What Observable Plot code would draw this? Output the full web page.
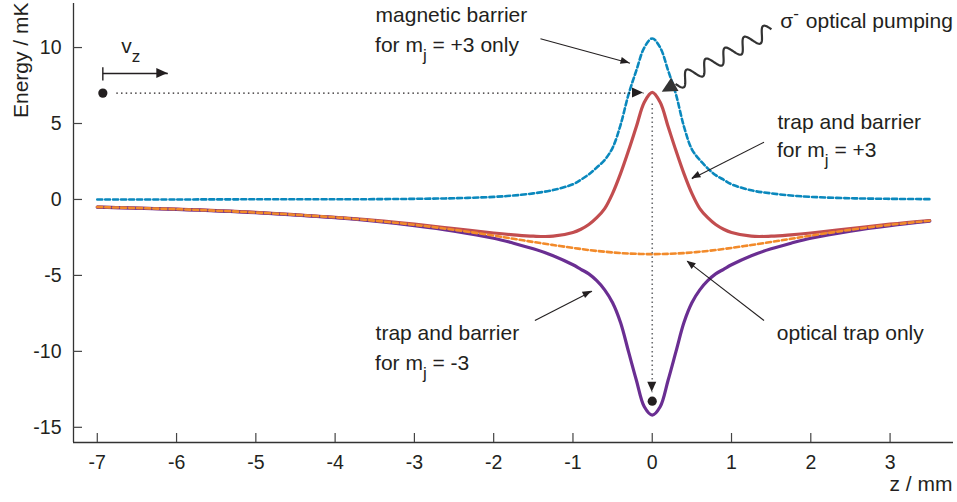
<!DOCTYPE html>
<html><head><meta charset="utf-8">
<script src="https://cdn.jsdelivr.net/npm/d3@7"></script>
<script src="https://cdn.jsdelivr.net/npm/@observablehq/plot@0.6"></script>
<style>
html,body{margin:0;padding:0;background:#fff;}
#chart svg{display:block;}
</style></head><body><div id="chart"></div>
<script>
// ---- axis ticks ----
const X_TICKS = [-7, -6, -5, -4, -3, -2, -1, 0, 1, 2, 3];
const Y_TICKS = [-15, -10, -5, 0, 5, 10];
const X_TITLE = "z / mm";
const Y_TITLE = "Energy / mK";

// ---- curves (z in mm, energy in mK) ----
const zPos = [-7, -6, -5, -4, -3.5, -3, -2.5, -2, -1.75, -1.5, -1.25, -1, -0.9, -0.8, -0.7, -0.6, -0.5, -0.4, -0.3, -0.2, -0.1, 0,
  0.1, 0.2, 0.3, 0.4, 0.5, 0.6, 0.7, 0.8, 0.9, 1, 1.25, 1.5, 1.75, 2, 2.5, 3, 3.5];
const magneticBarrier = [0, 0, 0.01, 0.01, 0.02, 0.04, 0.08, 0.17, 0.26, 0.4, 0.62, 1.0, 1.3, 1.65, 2.1, 2.6, 3.4, 4.9, 6.9, 8.5, 10.0, 10.6,
  10.0, 8.5, 6.9, 4.8, 3.3, 2.6, 2.05, 1.6, 1.3, 1.0, 0.6, 0.4, 0.26, 0.17, 0.08, 0.04, 0.02];
const trapPlus3 = [-0.5, -0.64, -0.85, -1.18, -1.38, -1.63, -1.92, -2.21, -2.33, -2.42, -2.42, -2.17, -1.96, -1.65, -1.2, -0.6, 0.4, 1.7, 3.2, 4.8, 6.4, 7.05,
  6.4, 4.8, 3.2, 1.7, 0.4, -0.6, -1.2, -1.65, -1.96, -2.17, -2.42, -2.42, -2.33, -2.21, -1.92, -1.63, -1.39];
const trapMinus3 = [-0.5, -0.65, -0.87, -1.2, -1.43, -1.72, -2.08, -2.55, -2.88, -3.25, -3.7, -4.3, -4.6, -4.9, -5.35, -5.95, -6.8, -8.1, -10.0, -11.9, -13.65, -14.2,
  -13.65, -11.9, -10.0, -8.1, -6.8, -5.95, -5.35, -4.9, -4.6, -4.3, -3.7, -3.25, -2.88, -2.55, -2.08, -1.72, -1.43];
const opticalOnly = [-0.5, -0.64, -0.86, -1.18, -1.4, -1.67, -2.0, -2.38, -2.59, -2.8, -3.0, -3.19, -3.26, -3.33, -3.39, -3.44, -3.49, -3.53, -3.56, -3.58, -3.595, -3.6,
  -3.595, -3.58, -3.56, -3.53, -3.49, -3.44, -3.39, -3.33, -3.26, -3.19, -3.0, -2.8, -2.59, -2.38, -2.0, -1.67, -1.4];

// ---- annotations (data coordinates) ----
const plainLabels = [
  {text: "magnetic barrier", x: -3.49, y: 11.67},
  {text: "trap and barrier", x: 1.58, y: 4.65},
  {text: "trap and barrier", x: -3.49, y: -9.28},
  {text: "optical trap only", x: 1.57, y: -9.28}
];
const subLabels = [
  {pre: "for m", sub: "j", post: " = +3 only", x: -3.49, y: 9.70},
  {pre: "for m", sub: "j", post: " = +3", x: 1.58, y: 2.78},
  {pre: "for m", sub: "j", post: " = -3", x: -3.49, y: -11.26},
  {pre: "v", sub: "z", post: "", x: -6.69, y: 9.61}
];
const pumpLabel = {sym: "σ", sup: "-", text: "optical pumping", x: 1.62, y: 11.24};
const pointers = [
  {x1: -1.41, y1: 10.58, x2: -0.28, y2: 8.97},
  {x1: 1.41, y1: 3.77, x2: 0.50, y2: 1.36},
  {x1: -1.48, y1: -7.97, x2: -0.76, y2: -6.04},
  {x1: 1.41, y1: -7.97, x2: 0.44, y2: -4.06}
];
const atoms = [{x: -6.93, y: 7.0}, {x: 0, y: -13.28}];
const pathH = {x1: -6.76, x2: -0.11, y: 7};
const pathV = {x: 0, y1: 6.32, y2: -12.69};
const vz = {x1: -6.93, x2: -6.11, y: 8.29, barTop: 8.71, barBottom: 7.83};
const pump = {x1: 1.51, y1: 11.17, x2: 0.30, y2: 7.57, tipX: 0.126, tipY: 7.06};

const rows = arr => zPos.map((z, i) => ({z, v: arr[i]}));
const INK = "#231f20";
const FS = 21;

function decorations(index, scales) {
  const X = scales.x, Y = scales.y;
  const g = d3.create("svg:g").attr("text-anchor", "start");
  const head = (px1, py1, px2, py2, len, hw, fill) => {
    const a = Math.atan2(py2 - py1, px2 - px1);
    const bx = px2 - len * Math.cos(a), by = py2 - len * Math.sin(a);
    const nx = -Math.sin(a) * hw, ny = Math.cos(a) * hw;
    g.append("path").attr("d", `M${px2},${py2}L${bx + nx},${by + ny}L${bx - nx},${by - ny}Z`).attr("fill", fill);
  };
  for (const p of pointers) head(X(p.x1), Y(p.y1), X(p.x2), Y(p.y2), 9, 3.5, INK);
  head(X(pathH.x1), Y(pathH.y), X(pathH.x2), Y(pathH.y), 11, 5, INK);
  head(X(pathV.x), Y(pathV.y1), X(pathV.x), Y(pathV.y2), 10, 4.5, INK);
  head(X(vz.x1), Y(vz.y), X(vz.x2), Y(vz.y), 11, 5, INK);
  // wavy optical pumping photon
  const sx = X(pump.x1), sy = Y(pump.y1), ex = X(pump.x2), ey = Y(pump.y2);
  const L = Math.hypot(ex - sx, ey - sy), ux = (ex - sx) / L, uy = (ey - sy) / L;
  const pts = d3.range(0, 201).map(i => {
    const t = i / 200, w = 7 * Math.sin(2 * Math.PI * 5 * t);
    return [sx + ux * L * t - uy * w, sy + uy * L * t + ux * w];
  });
  g.append("path").attr("d", d3.line()(pts)).attr("fill", "none").attr("stroke", "#333").attr("stroke-width", 2.2);
  head(ex, ey, X(pump.tipX), Y(pump.tipY), 15, 7.5, "#333");
  for (const s of subLabels) {
    const t = g.append("text").attr("x", X(s.x)).attr("y", Y(s.y)).attr("fill", INK).attr("font-size", FS).attr("text-anchor", "start");
    t.append("tspan").text(s.pre);
    t.append("tspan").attr("dy", 9).attr("font-size", 17).text(s.sub);
    if (s.post) t.append("tspan").attr("dy", -9).text(s.post);
  }
  const t = g.append("text").attr("x", X(pumpLabel.x)).attr("y", Y(pumpLabel.y)).attr("fill", INK).attr("font-size", FS).attr("text-anchor", "start");
  t.append("tspan").text(pumpLabel.sym);
  t.append("tspan").attr("dy", -9).attr("font-size", 17).text(pumpLabel.sup);
  t.append("tspan").attr("dy", 9).attr("dx", 7).text(pumpLabel.text);
  return g.node();
}

const chart = Plot.plot({
  width: 957, height: 502,
  marginLeft: 73, marginRight: 4, marginTop: 3, marginBottom: 60,
  x: {domain: [-7.3, 3.8]},
  y: {domain: [-16, 12.9]},
  style: {fontFamily: "'Liberation Sans', Arial, sans-serif", fontSize: "20px", color: INK, background: "#fff"},
  marks: [
    Plot.ruleX([-7.3], {stroke: "#333", strokeWidth: 1.3}),
    Plot.ruleY([-16], {stroke: "#333", strokeWidth: 1.3}),
    Plot.tickX(X_TICKS, {x: d => d, insetTop: 430, stroke: "#444", strokeWidth: 1.2}),
    Plot.tickY(Y_TICKS, {y: d => d, insetRight: 871, stroke: "#444", strokeWidth: 1.2}),
    Plot.axisX(X_TICKS, {tickSize: 0, tickPadding: 13, fontSize: 19.5, label: null, tickFormat: d => String(d), fill: INK}),
    Plot.axisY(Y_TICKS, {tickSize: 0, tickPadding: 12, fontSize: 19.5, label: null, tickFormat: d => String(d), fill: INK}),
    Plot.text([Y_TITLE], {text: d => d, frameAnchor: "top-left", dx: -46, dy: -1, rotate: -90, textAnchor: "end", lineAnchor: "bottom", fontSize: FS, fill: INK}),
    Plot.text([X_TITLE], {text: d => d, frameAnchor: "bottom-right", dx: -1, dy: 48, textAnchor: "end", lineAnchor: "bottom", fontSize: FS, fill: INK}),
    Plot.line(rows(magneticBarrier), {x: "z", y: "v", stroke: "#0a88bd", strokeWidth: 2.6, strokeDasharray: "5,3", curve: "catmull-rom"}),
    Plot.line(rows(trapPlus3), {x: "z", y: "v", stroke: "#c24d4f", strokeWidth: 3.2, curve: "catmull-rom"}),
    Plot.line(rows(trapMinus3), {x: "z", y: "v", stroke: "#6a2e92", strokeWidth: 3.2, curve: "catmull-rom"}),
    Plot.line(rows(opticalOnly), {x: "z", y: "v", stroke: "#f28a2a", strokeWidth: 2.6, strokeDasharray: "5,3", curve: "catmull-rom"}),
    Plot.link([pathH], {x1: "x1", x2: "x2", y1: "y", y2: "y", stroke: INK, strokeWidth: 1.4, strokeDasharray: "1.5,3.2"}),
    Plot.link([pathV], {x1: "x", x2: "x", y1: "y1", y2: "y2", stroke: "#6d6e71", strokeWidth: 1.6, strokeDasharray: "1.5,3"}),
    Plot.link([vz], {x1: "x1", x2: "x1", y1: "barTop", y2: "barBottom", stroke: INK, strokeWidth: 1.4}),
    Plot.link([vz], {x1: "x1", x2: "x2", y1: "y", y2: "y", stroke: INK, strokeWidth: 1.4}),
    Plot.link(pointers, {x1: "x1", y1: "y1", x2: "x2", y2: "y2", stroke: INK, strokeWidth: 1.1}),
    Plot.dot(atoms, {x: "x", y: "y", r: 4.6, fill: INK}),
    Plot.text(plainLabels, {x: "x", y: "y", text: "text", textAnchor: "start", lineAnchor: "bottom", fontSize: FS, fill: INK}),
    decorations
  ]
});
document.getElementById("chart").append(chart);
</script>
</body></html>
